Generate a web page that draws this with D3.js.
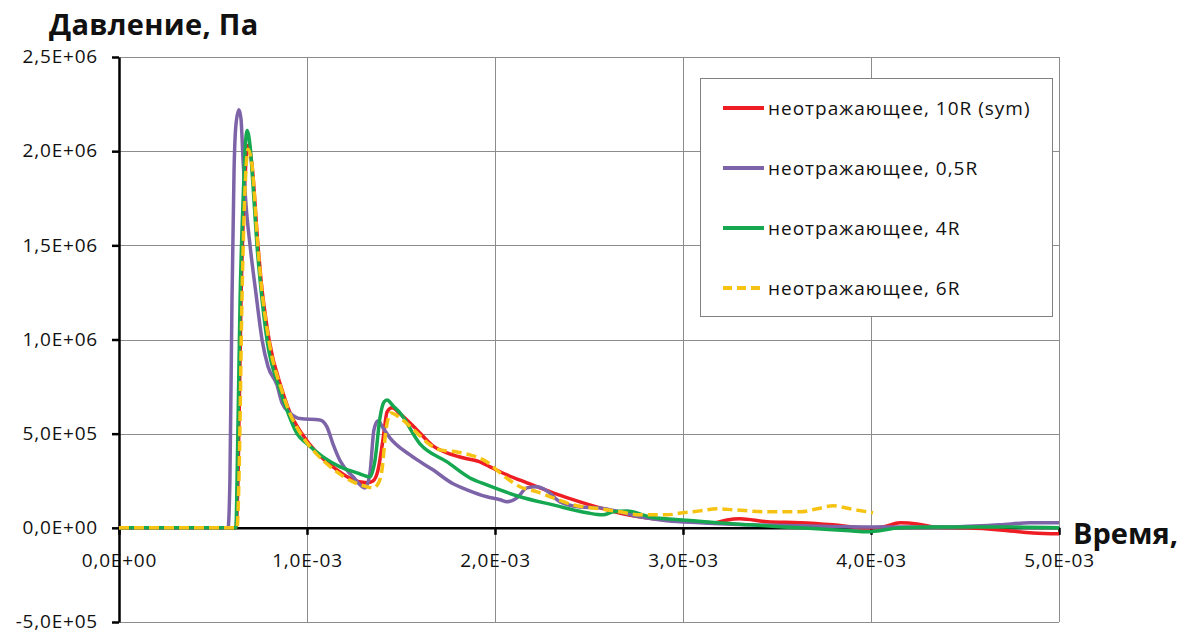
<!DOCTYPE html>
<html>
<head>
<meta charset="utf-8">
<script src="https://cdn.jsdelivr.net/npm/d3@7"></script>
<style>
  body { margin: 0; background: #fff; }
  svg { display: block; }
  text { font-family: "Open Sans", sans-serif; }
</style>
</head>
<body>
<script>
// время в мс, давление в Па
const seriesNames = ["неотражающее, 10R (sym)", "неотражающее, 0,5R", "неотражающее, 4R", "неотражающее, 6R"]
const seriesColors = ["#ee1d23", "#7d64a8", "#16a851", "#f7c313"]

const tRed = [0, 0.622, 0.633, 0.649, 0.665, 0.686, 0.707, 0.739, 0.755, 0.798, 0.867, 0.910, 0.973, 1.053, 1.138, 1.245, 1.319, 1.351, 1.378, 1.404, 1.426, 1.452, 1.495, 1.585, 1.670, 1.745, 1.830, 1.920, 1.973, 2.064, 2.170, 2.309, 2.452, 2.596, 2.734, 2.915, 3.090, 3.170, 3.234, 3.303, 3.447, 3.622, 3.798, 3.979, 4.064, 4.154, 4.245, 4.330, 4.511, 4.686, 4.862, 5.0]
const pRed = [0, 0, 2.55e5, 1.21e6, 1.74e6, 2.03e6, 1.93e6, 1.50e6, 1.32e6, 1.0e6, 7.33e5, 6.1e5, 5.0e5, 3.98e5, 3.24e5, 2.55e5, 2.39e5, 2.49e5, 3.08e5, 4.67e5, 6.16e5, 6.37e5, 6.05e5, 5.2e5, 4.35e5, 3.98e5, 3.72e5, 3.5e5, 3.24e5, 2.81e5, 2.39e5, 1.86e5, 1.38e5, 9.6e4, 6.4e4, 4.2e4, 3.2e4, 2.7e4, 4.2e4, 4.8e4, 3.2e4, 2.7e4, 1.6e4, 0, 5e3, 2.7e4, 2.1e4, 5e3, 0, -1.1e4, -2.7e4, -3.2e4]

const tPurple = [0, 0.580, 0.590, 0.601, 0.612, 0.622, 0.638, 0.649, 0.660, 0.676, 0.697, 0.729, 0.761, 0.793, 0.840, 0.867, 0.910, 0.963, 1.069, 1.106, 1.138, 1.176, 1.245, 1.309, 1.335, 1.356, 1.378, 1.404, 1.441, 1.548, 1.670, 1.777, 1.851, 1.957, 2.027, 2.064, 2.117, 2.170, 2.223, 2.277, 2.346, 2.452, 2.559, 2.665, 2.771, 2.915, 3.090, 3.356, 3.622, 3.995, 4.420, 4.686, 4.846, 5.0]
const pPurple = [0, 0, 2.55e5, 1.21e6, 1.9e6, 2.14e6, 2.22e6, 2.17e6, 1.95e6, 1.71e6, 1.50e6, 1.24e6, 9.98e5, 8.55e5, 7.6e5, 6.64e5, 6.1e5, 5.8e5, 5.73e5, 5.36e5, 4.46e5, 3.56e5, 2.71e5, 2.12e5, 2.92e5, 5.2e5, 5.68e5, 5.31e5, 4.78e5, 3.87e5, 3.08e5, 2.34e5, 2.02e5, 1.65e5, 1.49e5, 1.38e5, 1.59e5, 2.12e5, 2.18e5, 1.96e5, 1.38e5, 1.11e5, 1.06e5, 8.5e4, 5.8e4, 3.7e4, 2.7e4, 1.6e4, 1.1e4, 5e3, 5e3, 1.6e4, 2.7e4, 2.7e4]

const tGreen = [0, 0.622, 0.628, 0.644, 0.660, 0.681, 0.697, 0.718, 0.734, 0.750, 0.787, 0.856, 0.899, 0.947, 1.0, 1.085, 1.176, 1.266, 1.335, 1.362, 1.388, 1.410, 1.426, 1.457, 1.495, 1.601, 1.745, 1.867, 1.957, 2.133, 2.309, 2.489, 2.574, 2.628, 2.702, 2.824, 3.0, 3.181, 3.356, 3.532, 3.713, 3.888, 3.979, 4.154, 4.330, 4.686, 5.0]
const pGreen = [0, 0, 2.55e5, 1.21e6, 1.74e6, 2.11e6, 2.03e6, 1.74e6, 1.50e6, 1.32e6, 1.0e6, 7.33e5, 6.1e5, 5.0e5, 4.46e5, 3.77e5, 3.24e5, 2.92e5, 2.71e5, 3.61e5, 5.84e5, 6.69e5, 6.79e5, 6.48e5, 6.1e5, 4.46e5, 3.5e5, 2.65e5, 2.28e5, 1.65e5, 1.22e5, 8e4, 6.9e4, 8.5e4, 9e4, 5.8e4, 4.2e4, 2.7e4, 1.6e4, 5e3, -5e3, -1.6e4, -2.1e4, 0, 5e3, 5e3, 0]

const tYellow = [0, 0.628, 0.638, 0.654, 0.670, 0.686, 0.707, 0.739, 0.755, 0.798, 0.867, 0.910, 0.973, 1.053, 1.138, 1.245, 1.319, 1.351, 1.378, 1.399, 1.420, 1.447, 1.495, 1.585, 1.654, 1.707, 1.798, 1.867, 1.957, 2.027, 2.133, 2.223, 2.309, 2.415, 2.559, 2.665, 2.771, 2.915, 3.0, 3.090, 3.181, 3.266, 3.447, 3.622, 3.713, 3.798, 3.888, 4.011]
const pYellow = [0, 0, 2.55e5, 1.21e6, 1.79e6, 2.01e6, 1.93e6, 1.49e6, 1.31e6, 9.9e5, 7.27e5, 6.05e5, 4.9e5, 3.9e5, 3.13e5, 2.44e5, 2.18e5, 2.12e5, 2.34e5, 3.08e5, 5.2e5, 6.1e5, 5.84e5, 5.04e5, 4.41e5, 4.14e5, 4.03e5, 3.87e5, 3.5e5, 2.92e5, 2.18e5, 1.91e5, 1.59e5, 1.22e5, 1.01e5, 8.5e4, 6.9e4, 6.9e4, 8e4, 9e4, 1.01e5, 9.6e4, 8.5e4, 8.5e4, 1.01e5, 1.17e5, 1.01e5, 8e4]

const xTickValues = [0, 1, 2, 3, 4, 5]
const yTickValues = [-5e5, 0, 5e5, 1e6, 1.5e6, 2e6, 2.5e6]

const series = [
  { name: seriesNames[0], color: seriesColors[0], dash: null, values: d3.zip(tRed, pRed) },
  { name: seriesNames[1], color: seriesColors[1], dash: null, values: d3.zip(tPurple, pPurple) },
  { name: seriesNames[2], color: seriesColors[2], dash: null, values: d3.zip(tGreen, pGreen) },
  { name: seriesNames[3], color: seriesColors[3], dash: "10,5", values: d3.zip(tYellow, pYellow) },
]

const W = 1189, H = 633

const svg = d3.select("body").append("svg")
  .attr("width", W)
  .attr("height", H)

svg.append("rect").attr("width", W).attr("height", H).attr("fill", "#fff")

const x = d3.scaleLinear().domain([0, 5]).range([119, 1059])
const y = d3.scaleLinear().domain([-5e5, 2.5e6]).range([622, 57])

// 2.5e6 -> "2,5E+06", 1e-3 -> "1,0E-03"
const sci = v => {
  const [m, e] = d3.format(".1e")(v).split("e")
  const n = +e
  return m.replace("\u2212", "-").replace(".", ",") + "E" + (n < 0 ? "-" : "+") + String(Math.abs(n)).padStart(2, "0")
}

// сетка
svg.append("g")
  .selectAll("line")
  .data(xTickValues.filter(d => d !== 0))
  .enter().append("line")
    .attr("x1", d => Math.round(x(d)) + 0.5)
    .attr("x2", d => Math.round(x(d)) + 0.5)
    .attr("y1", y(2.5e6))
    .attr("y2", y(-5e5))
    .attr("stroke", "#8c8c8c")
    .attr("stroke-width", 1)

svg.append("g")
  .selectAll("line")
  .data(yTickValues.filter(d => d !== 0))
  .enter().append("line")
    .attr("x1", x(0))
    .attr("x2", x(5))
    .attr("y1", d => Math.round(y(d)) + 0.5)
    .attr("y2", d => Math.round(y(d)) + 0.5)
    .attr("stroke", "#8c8c8c")
    .attr("stroke-width", 1)

// ось X
const gx = svg.append("g")
  .attr("transform", "translate(0," + y(0) + ")")
  .call(d3.axisBottom(x)
    .tickValues(xTickValues)
    .tickFormat(d => sci(d * 1e-3))
    .tickSize(7)
    .tickSizeOuter(0))

gx.select(".domain").attr("stroke", "#000").attr("stroke-width", 2.5)
gx.selectAll(".tick line").attr("stroke", "#000").attr("stroke-width", 2.5)
gx.selectAll(".tick text")
  .attr("y", 39)
  .attr("dy", 0)
  .style("font-family", "Open Sans")
  .style("font-size", "19px")
  .style("letter-spacing", "0.8px")
  .attr("fill", "#111")

// ось Y
const gy = svg.append("g")
  .attr("transform", "translate(" + x(0) + ",0)")
  .call(d3.axisLeft(y)
    .tickValues(yTickValues)
    .tickFormat(sci)
    .tickSize(7)
    .tickPadding(14)
    .tickSizeOuter(0))

gy.select(".domain").attr("stroke", "#000").attr("stroke-width", 2.5)
gy.selectAll(".tick line").attr("stroke", "#000").attr("stroke-width", 2.5)
gy.selectAll(".tick text")
  .attr("dy", "0.3em")
  .style("font-family", "Open Sans")
  .style("font-size", "19px")
  .style("letter-spacing", "0.8px")
  .attr("fill", "#111")

// линии
const line = d3.line()
  .x(d => x(d[0]))
  .y(d => y(d[1]))
  .curve(d3.curveMonotoneX)

svg.append("g")
  .selectAll("path")
  .data(series)
  .enter().append("path")
    .attr("d", d => line(d.values))
    .attr("fill", "none")
    .attr("stroke", d => d.color)
    .attr("stroke-width", 3.5)
    .attr("stroke-linejoin", "round")
    .attr("stroke-dasharray", d => d.dash)

// легенда
const legend = svg.append("g")

legend.append("rect")
  .attr("x", 700.5)
  .attr("y", 78.5)
  .attr("width", 352)
  .attr("height", 238)
  .attr("fill", "#fff")
  .attr("stroke", "#808080")
  .attr("stroke-width", 1)

const item = legend.selectAll("g.item")
  .data(series)
  .enter().append("g")
    .attr("class", "item")
    .attr("transform", (d, i) => "translate(0," + (108 + i * 60) + ")")

item.append("line")
  .attr("x1", 723)
  .attr("x2", 764)
  .attr("stroke", d => d.color)
  .attr("stroke-width", 4)
  .attr("stroke-dasharray", d => d.dash ? "9,5" : null)

item.append("text")
  .attr("x", 768)
  .attr("dy", "0.36em")
  .style("font-size", "19px")
  .style("letter-spacing", "1px")
  .attr("fill", "#111")
  .text(d => d.name)

// подписи осей
svg.append("text")
  .attr("x", 49)
  .attr("y", 35)
  .style("font-size", "29px")
  .style("font-weight", "bold")
  .style("letter-spacing", "0.3px")
  .attr("fill", "#111")
  .text("Давление, Па")

svg.append("text")
  .attr("x", 1073)
  .attr("y", 544)
  .style("font-size", "29px")
  .style("font-weight", "bold")
  .attr("fill", "#111")
  .text("Время,")
</script>
</body>
</html>
